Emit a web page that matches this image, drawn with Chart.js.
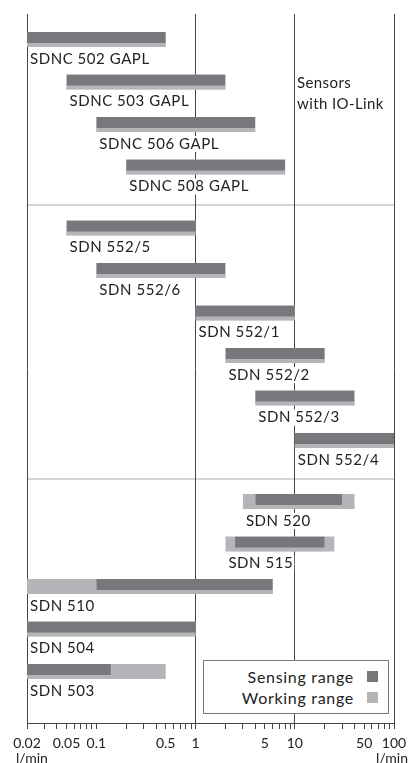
<!DOCTYPE html>
<html>
<head>
<meta charset="utf-8">
<script src="https://cdn.jsdelivr.net/npm/chart.js@4"></script>
<style>
  body { margin: 0; background: #fff; }
  #wrap { position: relative; width: 409px; height: 763px; font-family: Lato, sans-serif; color: #222; }
  #note { position: absolute; left: 297px; top: 72px; font-size: 15px; line-height: 21px; letter-spacing: 0.4px; }
  #legend { position: absolute; left: 203px; top: 660px; width: 186px; height: 54px; border: 1.5px solid #77787c; background: #fff; box-sizing: border-box; }
  #legend div { position: absolute; right: 34px; font-size: 16px; letter-spacing: 0.7px; white-space: nowrap; }
  #legend span { position: absolute; right: -24px; top: 4px; width: 11px; height: 11px; }
</style>
</head>
<body>
<div id="wrap">
  <canvas id="chart" width="409" height="763"></canvas>
  <div id="note">Sensors<br>with IO-Link</div>
  <div id="legend"></div>
</div>
<script>
const productNames = ['SDNC 502 GAPL', 'SDNC 503 GAPL', 'SDNC 506 GAPL', 'SDNC 508 GAPL',
  'SDN 552/5', 'SDN 552/6', 'SDN 552/1', 'SDN 552/2', 'SDN 552/3', 'SDN 552/4',
  'SDN 520', 'SDN 515', 'SDN 510', 'SDN 504', 'SDN 503'];
const productGroups = [0, 0, 0, 0, 1, 1, 1, 1, 1, 1, 2, 2, 2, 2, 2];
const sensingFrom = [0.02, 0.05, 0.1, 0.2, 0.05, 0.1, 1, 2, 4, 10, 4, 2.5, 0.1, 0.02, 0.02];
const sensingTo = [0.5, 2, 4, 8, 1, 2, 10, 20, 40, 100, 30, 20, 6, 1, 0.14];
const workingFrom = [0.02, 0.05, 0.1, 0.2, 0.05, 0.1, 1, 2, 4, 10, 3, 2, 0.02, 0.02, 0.02];
const workingTo = [0.5, 2, 4, 8, 1, 2, 10, 20, 40, 100, 40, 25, 6, 1, 0.5];
const tickLabels = ['0.02', '0.05', '0.1', '0.5', '1', '5', '10', '50', '100'];
const gridValues = [0.02, 1, 10, 100];
const unitLabel = 'l/min';

const DARK = '#77787c';
const LIGHT = '#b4b5b9';
const GROUP_GAP = 0.435;

// row position on the y axis: one unit per product, a bit extra between groups
const rowPos = productNames.map((n, i) => i + productGroups[i] * GROUP_GAP);

function rangeData(from, to) {
  return productNames.map((n, i) => ({ x: [from[i], to[i]], y: rowPos[i] }));
}

// minor ticks 2..9 x 10^n between 0.02 and 100
const tickValues = [];
for (let e = -2; e <= 1; e++) {
  for (let m = 1; m <= 9; m++) {
    const v = +(m * Math.pow(10, e)).toPrecision(3);
    if (v >= 0.02) tickValues.push(v);
  }
}
tickValues.push(100);

const rowLabels = {
  id: 'rowLabels',
  beforeDraw(chart) {
    const { ctx, chartArea, scales } = chart;
    ctx.save();
    ctx.strokeStyle = '#d4d4d6';
    ctx.lineWidth = 2;
    for (let i = 1; i < productNames.length; i++) {
      if (productGroups[i] !== productGroups[i - 1]) {
        const y = Math.round(scales.y.getPixelForValue(rowPos[i] - 0.54));
        ctx.beginPath();
        ctx.moveTo(chartArea.left, y);
        ctx.lineTo(chartArea.right, y);
        ctx.stroke();
      }
    }
    ctx.restore();
  },
  afterDatasetsDraw(chart) {
    const { ctx, scales } = chart;
    ctx.save();
    ctx.font = '15px Lato';
    ctx.letterSpacing = '0.55px';
    ctx.textBaseline = 'middle';
    ctx.textAlign = 'left';
    productNames.forEach((name, i) => {
      const x = scales.x.getPixelForValue(workingFrom[i]) + 3;
      const y = scales.y.getPixelForValue(rowPos[i]) + 19.5;
      const w = ctx.measureText(name).width;
      ctx.fillStyle = '#fff';
      ctx.fillRect(x - 1, y - 8, w + 2, 16);
      ctx.fillStyle = '#222';
      ctx.fillText(name, x, y);
    });
    ctx.restore();
  },
  afterDraw(chart) {
    const { ctx, chartArea } = chart;
    ctx.save();
    ctx.font = '14px Lato';
    ctx.fillStyle = '#222';
    ctx.textBaseline = 'middle';
    ctx.textAlign = 'left';
    ctx.fillText(unitLabel, 16, chartArea.bottom + 35);
    ctx.textAlign = 'right';
    ctx.fillText(unitLabel, 408, chartArea.bottom + 35);
    ctx.restore();
  }
};

const chart = new Chart(document.getElementById('chart'), {
  type: 'bar',
  data: {
    datasets: [
      {
        label: 'Sensing range',
        data: rangeData(sensingFrom, sensingTo),
        backgroundColor: DARK,
        borderColor: LIGHT,
        borderWidth: { top: 0, right: 0, bottom: 4, left: 0 },
        borderSkipped: false,
        barThickness: 15,
        grouped: false,
        inflateAmount: 0,
      },
      {
        label: 'Working range',
        data: rangeData(workingFrom, workingTo),
        backgroundColor: LIGHT,
        barThickness: 15,
        grouped: false,
        inflateAmount: 0,
      },
    ],
  },
  options: {
    indexAxis: 'y',
    responsive: false,
    animation: false,
    layout: { padding: { left: 27, right: 15, top: 14, bottom: 0 } },
    plugins: { legend: { display: false }, tooltip: { enabled: false } },
    scales: {
      y: {
        type: 'linear',
        display: false,
        offset: false,
        reverse: true,
        min: -0.6,
        max: rowPos[rowPos.length - 1] + 1.21,
      },
      x: {
        type: 'logarithmic',
        min: 0.02,
        max: 100,
        afterBuildTicks(scale) {
          scale.ticks = tickValues.map((v) => ({ value: v }));
        },
        afterFit(scale) {
          scale.height = 40;
          scale.paddingLeft = 0;
          scale.paddingRight = 0;
        },
        border: { display: true, color: '#444', width: 1 },
        grid: {
          color: (c) => (c.tick && gridValues.includes(c.tick.value) ? '#444' : 'rgba(0,0,0,0)'),
          tickColor: '#444',
          tickLength: 6,
          lineWidth: 1,
        },
        ticks: {
          autoSkip: false,
          maxRotation: 0,
          padding: 6,
          color: '#222',
          font: { family: 'Lato', size: 14 },
          callback(value) {
            const s = String(+value.toPrecision(3));
            return tickLabels.includes(s) ? s : '';
          },
        },
      },
    },
  },
  plugins: [rowLabels],
});

// html legend built from the datasets
const legendEl = document.getElementById('legend');
chart.data.datasets.forEach((ds, i) => {
  const item = document.createElement('div');
  item.style.top = (6 + i * 21) + 'px';
  item.textContent = ds.label;
  const sw = document.createElement('span');
  sw.style.background = ds.backgroundColor;
  item.appendChild(sw);
  legendEl.appendChild(item);
});
</script>
</body>
</html>
